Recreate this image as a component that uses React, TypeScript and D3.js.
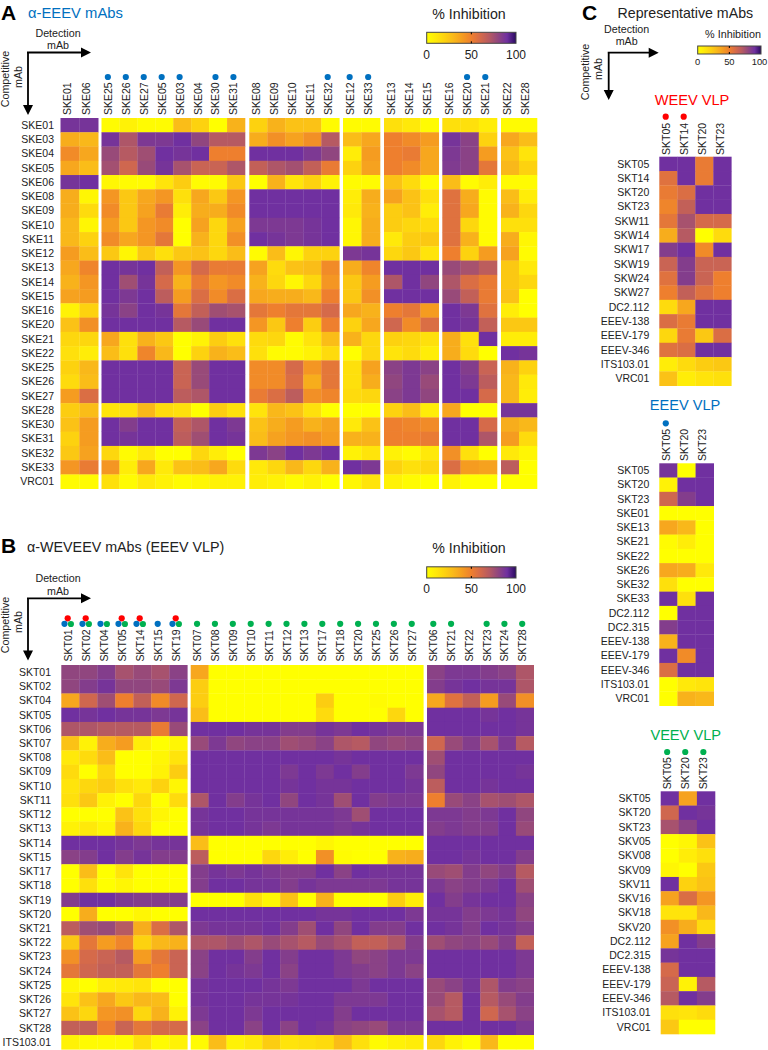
import React from "react";
import * as d3 from "d3";

// ---------- Panel A ----------
const aRows = ["SKE01","SKE03","SKE04","SKE05","SKE06","SKE08","SKE09","SKE10","SKE11","SKE12","SKE13","SKE14","SKE15","SKE16","SKE20","SKE21","SKE22","SKE25","SKE26","SKE27","SKE28","SKE30","SKE31","SKE32","SKE33","VRC01"];
const aGroups = [["SKE01","SKE06"],["SKE25","SKE26","SKE27","SKE05","SKE03","SKE04","SKE30","SKE31"],["SKE08","SKE09","SKE10","SKE11","SKE32"],["SKE12","SKE33"],["SKE13","SKE14","SKE15"],["SKE16","SKE20","SKE21"],["SKE22","SKE28"]];
const aBlue = ["SKE25","SKE26","SKE27","SKE05","SKE03","SKE30","SKE31","SKE32","SKE12","SKE33","SKE20","SKE21"];
const aValues = [
[88,88, 2,6,2,2,28,20,0,32, 20,32,26,26,2, 2,2, 14,10,2, 14,14,8, 2,2],
[34,30, 88,72,86,86,90,80,70,70, 34,44,38,44,70, 28,36, 50,46,40, 88,82,20, 36,28],
[46,36, 78,70,76,92,88,92,50,50, 90,90,90,86,80, 8,40, 50,52,36, 86,82,40, 26,12],
[36,28, 75,62,78,88,74,64,64,72, 66,72,75,66,52, 20,38, 50,46,36, 85,82,54, 30,20],
[88,92, 4,2,2,12,22,2,2,24, 0,32,12,20,6, 2,2, 26,16,2, 28,2,8, 2,2],
[34,4, 42,24,36,42,14,36,24,42, 90,90,90,90,90, 8,34, 38,26,14, 56,34,2, 28,8],
[34,16, 46,24,38,52,8,34,34,46, 90,90,90,90,90, 10,32, 22,26,8, 56,36,2, 32,18],
[30,4, 40,24,42,46,0,38,18,38, 86,86,86,88,90, 4,34, 22,18,16, 56,18,2, 14,14],
[30,20, 46,36,42,54,0,32,18,44, 90,88,86,88,90, 4,34, 10,22,24, 56,32,2, 34,4],
[40,28, 24,4,24,14,24,26,18,28, 2,28,4,20,20, 86,88, 18,24,12, 50,20,40, 38,2],
[36,48, 90,88,90,66,42,60,52,52, 38,16,26,28,46, 34,48, 92,92,92, 78,74,68, 24,10],
[32,42, 90,76,88,60,32,52,42,46, 32,18,4,18,42, 24,40, 72,92,80, 72,58,52, 24,18],
[38,40, 90,86,90,68,40,58,46,58, 36,34,34,30,50, 24,44, 92,92,92, 78,66,52, 26,0],
[6,20, 88,82,90,88,54,66,76,74, 54,50,54,54,60, 36,32, 50,54,40, 90,86,56, 8,0],
[26,44, 92,92,92,92,70,78,90,90, 42,24,50,22,50, 20,36, 62,46,58, 90,88,66, 24,24],
[18,18, 36,14,32,24,0,6,22,14, 16,18,2,12,28, 32,18, 20,18,14, 34,14,92, 8,8],
[14,8, 28,14,48,30,0,20,32,28, 14,2,2,6,16, 0,18, 12,16,8, 34,16,0, 90,88],
[20,30, 92,92,92,90,64,78,90,90, 46,46,60,42,54, 14,38, 82,86,82, 90,84,64, 32,20],
[16,28, 92,92,92,90,64,78,90,90, 46,46,58,34,54, 14,34, 80,86,78, 90,86,68, 30,10],
[40,58, 92,92,92,90,68,72,90,90, 52,58,68,44,48, 16,18, 82,86,80, 92,92,60, 30,8],
[22,28, 12,14,30,16,14,0,22,14, 12,30,26,14,0, 0,0, 20,28,8, 36,0,0, 88,88],
[26,40, 90,84,90,90,66,72,90,86, 26,34,40,32,38, 10,26, 50,48,46, 92,92,60, 34,30],
[20,40, 90,88,90,90,68,76,90,88, 28,38,42,44,40, 32,32, 50,50,52, 92,92,72, 40,16],
[24,38, 18,2,10,0,0,18,8,0, 86,82,90,86,90, 6,12, 6,2,10, 44,14,0, 10,4],
[42,52, 42,8,36,10,26,28,36,16, 10,18,30,18,32, 90,86, 20,14,18, 58,40,38, 68,0],
[2,2, 14,2,10,6,2,4,6,6, 8,6,2,6,0, 4,12, 6,2,0, 6,0,0, 0,0],
];

// ---------- Panel B ----------
const bRows = ["SKT01","SKT02","SKT04","SKT05","SKT06","SKT07","SKT08","SKT09","SKT10","SKT11","SKT12","SKT13","SKT14","SKT15","SKT17","SKT18","SKT19","SKT20","SKT21","SKT22","SKT23","SKT24","SKT25","SKT26","SKT27","SKT28","ITS103.01"];
const bGroups = [["SKT01","SKT02","SKT04","SKT05","SKT14","SKT15","SKT19"],["SKT07","SKT08","SKT09","SKT10","SKT11","SKT12","SKT13","SKT17","SKT18","SKT20","SKT25","SKT26","SKT27"],["SKT06","SKT21","SKT22","SKT23","SKT24","SKT28"]];
const bRed = ["SKT01","SKT02","SKT05","SKT14","SKT19"];
const bBlue = ["SKT01","SKT02","SKT04","SKT05","SKT14","SKT15","SKT19"];
const bGreenNoMix = ["SKT07","SKT08","SKT09","SKT10","SKT11","SKT12","SKT13","SKT17","SKT18","SKT20","SKT25","SKT26","SKT27","SKT06","SKT21","SKT23","SKT24","SKT28"];
const bGreenMix = ["SKT01","SKT02","SKT04","SKT05","SKT14","SKT19"];
const bValues = [
[80,80,84,74,78,74,82, 36,0,0,0,0,0,0,0,0,0,0,0,0, 82,86,86,84,82,72],
[80,84,88,80,80,78,86, 22,0,0,0,0,0,0,0,0,0,0,0,0, 84,88,90,88,88,72],
[36,62,76,50,66,46,62, 22,0,0,0,0,0,0,22,0,0,2,0,0, 36,56,66,40,78,44],
[90,88,90,88,88,86,88, 28,0,0,0,0,0,0,16,0,0,0,18,0, 92,90,90,88,92,88],
[72,72,70,70,70,52,78, 90,92,90,88,88,84,84,88,86,90,88,86,86, 92,90,90,90,90,88],
[26,6,34,40,8,0,4, 78,86,80,82,82,76,78,82,72,70,80,78,80, 62,78,84,74,86,70],
[10,16,28,0,0,4,12, 90,90,90,90,90,90,90,90,88,90,90,90,90, 76,90,90,90,90,90],
[16,0,18,0,0,6,22, 90,90,90,90,90,86,90,86,90,84,90,90,86, 80,90,90,90,92,88],
[12,18,22,14,10,20,4, 90,90,90,90,90,88,90,88,88,90,90,90,88, 68,90,90,88,90,90],
[14,24,6,0,18,0,16, 72,90,84,88,90,80,90,88,76,90,84,86,86, 50,78,82,74,76,72],
[0,0,0,26,14,4,0, 88,90,90,88,88,88,88,88,86,76,90,90,90, 86,86,84,86,92,80],
[6,10,4,32,18,0,0, 88,90,90,88,86,88,88,88,86,88,90,90,90, 84,86,84,84,92,78],
[90,90,92,88,86,88,88, 28,0,0,0,0,0,0,4,0,0,0,0,0, 92,92,92,92,92,90],
[82,84,90,84,88,84,84, 68,0,0,0,18,8,0,44,2,0,0,32,34, 92,92,88,90,92,84],
[0,28,0,12,0,0,0, 84,88,86,88,86,84,84,90,82,90,88,88,88, 78,76,84,80,84,70],
[0,14,0,4,0,0,0, 84,90,90,88,88,84,88,86,86,86,86,88,88, 86,82,84,86,90,76],
[84,92,90,86,84,84,84, 0,0,0,14,4,26,0,32,0,0,0,22,8, 92,84,88,90,90,82],
[0,34,0,0,4,0,0, 90,90,90,90,90,90,90,88,88,90,90,90,86, 88,88,84,86,88,80],
[68,76,78,70,34,58,72, 86,88,88,88,90,84,76,90,80,90,84,84,90, 90,88,84,90,88,84],
[24,54,40,48,20,30,32, 72,72,76,72,78,74,70,78,74,66,66,72,84, 76,80,82,78,84,66],
[44,60,64,70,40,54,64, 82,90,90,84,92,84,90,90,86,80,82,86,86, 92,92,90,90,92,86],
[54,62,66,66,54,50,64, 82,90,88,86,90,82,90,90,86,84,82,86,82, 92,92,90,90,92,86],
[4,0,8,10,12,0,0, 88,90,90,90,88,86,90,90,90,86,90,90,90, 78,82,88,72,84,82],
[12,26,36,24,30,28,0, 88,90,90,88,88,88,90,90,86,86,86,90,90, 78,70,92,70,78,84],
[26,18,42,44,18,32,6, 86,90,90,86,90,90,90,90,84,90,90,90,90, 74,70,92,62,74,82],
[66,66,50,64,54,60,60, 82,90,90,82,90,82,90,88,82,80,78,86,86, 90,90,90,90,90,86],
[6,2,2,2,14,2,6, 2,28,6,10,22,12,14,16,28,14,2,6,8, 18,6,0,30,0,0],
];

// ---------- Panel C ----------
const weevRows = ["SKT05","SKT14","SKT20","SKT23","SKW11","SKW14","SKW17","SKW19","SKW24","SKW27","DC2.112","EEEV-138","EEEV-179","EEEV-346","ITS103.01","VRC01"];
const weevCols = ["SKT05","SKT14","SKT20","SKT23"];
const weevDots = ["SKT05","SKT14"];
const weevValues = [
[90,90,52,90],[56,90,52,90],[52,58,90,90],[48,66,90,90],[54,74,60,60],[34,70,0,16],[84,92,46,90],[64,84,64,64],
[56,84,64,50],[50,66,56,50],[16,36,90,90],[58,52,90,90],[18,52,24,58],[56,58,92,92],[8,16,22,24],[26,8,12,14],
];
const eeevRows = ["SKT05","SKT20","SKT23","SKE01","SKE13","SKE21","SKE22","SKE26","SKE32","SKE33","DC2.112","DC2.315","EEEV-138","EEEV-179","EEEV-346","ITS103.01","VRC01"];
const eeevCols = ["SKT05","SKT20","SKT23"];
const eeevDots = ["SKT05"];
const eeevValues = [
[88,0,90],[6,90,90],[62,84,90],[0,0,0],[36,30,0],[2,8,0],[0,0,0],[36,34,10],[14,0,0],[90,14,90],[0,90,90],[84,90,90],
[32,90,90],[90,46,90],[58,90,90],[0,10,12],[0,32,30],
];
const veevRows = ["SKT05","SKT20","SKT23","SKV05","SKV08","SKV09","SKV11","SKV16","SKV18","SKV20","DC2.112","DC2.315","EEEV-138","EEEV-179","EEEV-346","ITS103.01","VRC01"];
const veevCols = ["SKT05","SKT20","SKT23"];
const veevDots = ["SKT05","SKT20","SKT23"];
const veevValues = [
[90,38,90],[62,90,88],[74,82,90],[0,4,26],[0,8,14],[4,0,24],[90,20,26],[38,58,42],[12,12,30],[44,34,16],[38,92,84],
[88,92,92],[60,92,92],[64,6,70],[70,90,84],[14,12,16],[24,0,0],
];

const BLUE = "#0070c0", GREEN = "#00b050", RED = "#ff0000", INK = "#222222";
const FONT = "'Liberation Sans', Arial, sans-serif";

const colorStops = [0,10,20,30,40,50,60,70,80,90,100];
const colorRange = ["#ffff00","#ffe90a","#fdd20f","#f9b81a","#f59c20","#ee7f2e","#d56a4a","#b65a62","#90467f","#7030a0","#2a0a60"];
const color = d3.scaleLinear<string>().domain(colorStops).range(colorRange).clamp(true);
// The heat cells saturate at the mid purple; only the colour bar reaches the darkest end.
const cellColor = (v: number) => color(Math.min(v, 90));

function Heat({ rows, groups, values, extents, top, bottom, labelRight, labelBottom, fs = 10.5, dots }: any) {
  const y = d3.scaleBand<string>().domain(rows).range([top, bottom]);
  let offset = 0;
  return (
    <g fontFamily={FONT} fontSize={fs} fill={INK}>
      {rows.map((r: string) => (
        <text key={r} x={labelRight} y={y(r)! + y.bandwidth() / 2 + 3.7} textAnchor="end">{r}</text>
      ))}
      {groups.map((cols: string[], gi: number) => {
        const x = d3.scaleBand<string>().domain(cols).range(extents[gi]);
        const start = offset;
        offset += cols.length;
        return (
          <g key={gi}>
            {rows.map((r: string, ri: number) =>
              cols.map((c, ci) => (
                <rect key={c} x={x(c)} y={y(r)} width={x.bandwidth() + 0.3} height={y.bandwidth() + 0.3} fill={cellColor(values[ri][start + ci])} />
              ))
            )}
            {cols.map((c) => {
              const cx = x(c)! + x.bandwidth() / 2;
              return (
                <g key={c}>
                  <text transform={`translate(${cx + 1.4},${labelBottom}) rotate(-90)`}>{c}</text>
                  {dots && dots(c, cx - 2.6)}
                </g>
              );
            })}
          </g>
        );
      })}
    </g>
  );
}

function Axes({ ox, oy, xEnd, yEnd, dx, dBase, mBase, compX, compY, mX, mY, fs = 10.7 }: any) {
  return (
    <g fontFamily={FONT} fontSize={fs} fill={INK}>
      <text x={dx} y={dBase} textAnchor="middle">Detection</text>
      <text x={dx} y={mBase} textAnchor="middle">mAb</text>
      <text transform={`translate(${compX},${compY}) rotate(-90)`} textAnchor="middle">Competitive</text>
      <text transform={`translate(${mX},${mY}) rotate(-90)`} textAnchor="middle">mAb</text>
      <path d={`M${ox - 1},${oy} H${xEnd - 9} M${ox},${oy} V${yEnd - 9}`} stroke="#000" strokeWidth={1.8} fill="none" />
      <path d={`M${xEnd},${oy} l-10,-5 v10 z M${ox},${yEnd} l-5,-10 h10 z`} fill="#000" />
    </g>
  );
}

function ColorBar({ x0, x1, y0, y1, title, titleX, titleY, labelY, fs, titleFs }: any) {
  const s = d3.scaleLinear().domain([0, 100]).range([x0, x1]);
  return (
    <g fontFamily={FONT} fill={INK}>
      <text x={titleX} y={titleY} textAnchor="middle" fontSize={titleFs}>{title}</text>
      <rect x={x0} y={y0} width={x1 - x0} height={y1 - y0} fill="url(#cbar)" stroke="#444" strokeWidth={1} />
      <path d={`M${s(50)},${y0} v2 M${s(50)},${y1} v-2`} stroke="#000" strokeWidth={1} />
      {[0, 50, 100].map((t) => (
        <text key={t} x={t === 100 && x1 > 740 ? Math.min(s(t), 759.5) : s(t)} y={labelY} textAnchor="middle" fontSize={fs}>{t}</text>
      ))}
    </g>
  );
}

export default function App() {
  const aExt = [[60.5,98.2],[101.5,245],[249.3,339.3],[343,380],[384,438.7],[442.3,497],[501,537]];
  const bExt = [[61.3,187.3],[190.7,423.3],[427,533.7]];
  const dot = (cx: number, cy: number, fill: string, r = 3.1) => <circle cx={cx} cy={cy} r={r} fill={fill} />;
  const head = { fontFamily: FONT, fontWeight: "bold", fontSize: 21, fill: "#000" };
  return (
    <svg width={768} height={1050} style={{ position: "absolute", left: 0, top: 0, display: "block", background: "#fff" }}>
      <defs>
        <linearGradient id="cbar">
          {colorStops.map((t) => <stop key={t} offset={`${t}%`} stopColor={color(t)} />)}
        </linearGradient>
      </defs>

      {/* Panel A */}
      <text x={1} y={19.5} {...head}>A</text>
      <text x={28} y={18} fontFamily={FONT} fontSize={14.8} fill={BLUE}>α-EEEV mAbs</text>
      <ColorBar x0={426.7} x1={516} y0={32.3} y1={43.3} title="% Inhibition" titleX={469} titleY={18.5} labelY={59} fs={12} titleFs={14.2} />
      <Axes ox={28} oy={52.5} xEnd={91} yEnd={115} dx={58} dBase={36.5} mBase={49} compX={8.5} compY={79} mX={21.5} mY={77} />
      <Heat rows={aRows} groups={aGroups} values={aValues} extents={aExt} top={118} bottom={488.7} labelRight={54} labelBottom={115}
        dots={(c: string, cx: number) => aBlue.includes(c) ? dot(cx, 77, BLUE) : null} />

      {/* Panel B */}
      <text x={1} y={553} {...head}>B</text>
      <text x={27} y={552} fontFamily={FONT} fontSize={14.3} fill={INK}>α-WEVEEV mAbs (EEEV VLP)</text>
      <ColorBar x0={426.7} x1={516} y0={566.8} y1={578} title="% Inhibition" titleX={469} titleY={553} labelY={593} fs={12} titleFs={14.2} />
      <Axes ox={28} oy={598.3} xEnd={91} yEnd={660.5} dx={58} dBase={582} mBase={594.5} compX={8.5} compY={625} mX={21.5} mY={622} />
      <Heat rows={bRows} groups={bGroups} values={bValues} extents={bExt} top={665} bottom={1049.3} labelRight={51} labelBottom={661.5}
        dots={(c: string, cx: number) => {
          const mix = bGreenMix.includes(c);
          return (
            <g>
              {bRed.includes(c) && dot(cx, 618.3, RED)}
              {bBlue.includes(c) && dot(mix ? cx - 3.2 : cx, 623.8, BLUE)}
              {mix && dot(cx + 3.2, 624, GREEN)}
              {bGreenNoMix.includes(c) && dot(cx, 623.8, GREEN)}
            </g>
          );
        }} />

      {/* Panel C */}
      <text x={582} y={19.5} {...head}>C</text>
      <text x={617.5} y={18} fontFamily={FONT} fontSize={14.2} fill={INK}>Representative mAbs</text>
      <ColorBar x0={697.7} x1={761} y0={46} y1={54} title="% Inhibition" titleX={733} titleY={38} labelY={64.5} fs={9.4} titleFs={10.8} />
      <Axes ox={608.7} oy={52.7} xEnd={658.7} yEnd={100} dx={626.7} dBase={32.5} mBase={45} compX={589} compY={72} mX={602} mY={69} />

      <text x={692} y={105} textAnchor="middle" fontFamily={FONT} fontSize={14.6} fill={RED}>WEEV VLP</text>
      <Heat rows={weevRows} groups={[weevCols]} values={weevValues} extents={[[659.3,731.3]]} top={156.7} bottom={385.7} labelRight={649.3} labelBottom={155}
        dots={(c: string, cx: number) => weevDots.includes(c) ? dot(cx, 116.7, RED) : null} />

      <text x={685} y={410} textAnchor="middle" fontFamily={FONT} fontSize={14.6} fill={BLUE}>EEEV VLP</text>
      <Heat rows={eeevRows} groups={[eeevCols]} values={eeevValues} extents={[[659.3,713.7]]} top={463.3} bottom={705.7} labelRight={649.3} labelBottom={461}
        dots={(c: string, cx: number) => eeevDots.includes(c) ? dot(cx, 423.3, BLUE) : null} />

      <text x={685.7} y={740} textAnchor="middle" fontFamily={FONT} fontSize={14.6} fill={GREEN}>VEEV VLP</text>
      <Heat rows={veevRows} groups={[veevCols]} values={veevValues} extents={[[660.7,715]]} top={791.3} bottom={1034} labelRight={650.7} labelBottom={789.3}
        dots={(c: string, cx: number) => veevDots.includes(c) ? dot(cx, 752, GREEN) : null} />
    </svg>
  );
}
